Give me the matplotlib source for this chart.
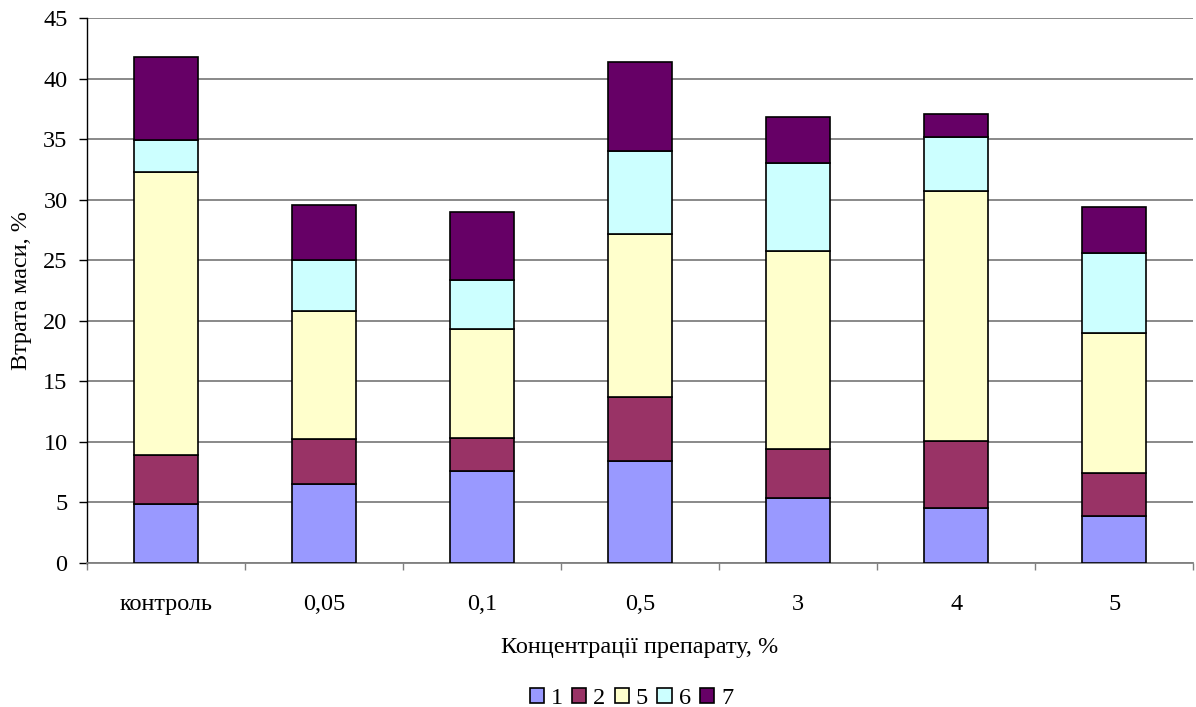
import matplotlib.pyplot as plt
import numpy as np

plt.rcParams['font.family'] = ['Liberation Serif', 'DejaVu Serif']

# categories and stacked segment heights (mass loss, %)
categories = ['контроль', '0,05', '0,1', '0,5', '3', '4', '5']
series_names = ['1', '2', '5', '6', '7']
s1 = [4.9, 6.5, 7.6, 8.4, 5.4, 4.5, 3.9]
s2 = [4.0, 3.7, 2.7, 5.3, 4.0, 5.6, 3.5]
s5 = [23.4, 10.6, 9.0, 13.5, 16.4, 20.6, 11.6]
s6 = [2.6, 4.2, 4.1, 6.8, 7.2, 4.5, 6.6]
s7 = [6.9, 4.6, 5.6, 7.4, 3.8, 1.9, 3.8]

colors = ['#9999FF', '#993366', '#FFFFCC', '#CCFFFF', '#660066']
fs = 17.5

fig = plt.figure(figsize=(11.96, 7.07), dpi=100)
ax = fig.add_axes([0.0727, 0.2037, 0.925, 0.7708])

x = np.arange(len(categories))
bottom = np.zeros(len(categories))
for name, vals, col in zip(series_names, [s1, s2, s5, s6, s7], colors):
    ax.bar(x, vals, width=0.405, bottom=bottom, color=col,
           edgecolor='black', linewidth=1.2, label=name, zorder=3)
    bottom += np.array(vals)

ax.set_xlim(-0.5, len(categories) - 0.5)
ax.set_ylim(0, 45)
ax.set_yticks(np.arange(0, 46, 5))
ax.yaxis.grid(True, color='#808080', linewidth=1.3, zorder=0)
ax.set_axisbelow(True)

# category labels between boundary ticks
ax.set_xticks(np.arange(-0.5, len(categories), 1.0))
ax.set_xticklabels([])
ax.set_xticks(x, minor=True)
ax.set_xticklabels(categories, minor=True)
ax.tick_params(axis='x', which='major', length=5, color='#808080', width=1)
ax.tick_params(axis='x', which='minor', length=0, pad=22, labelsize=fs)
ax.tick_params(axis='y', length=6, width=1, labelsize=fs, pad=8)

for side in ['top', 'right']:
    ax.spines[side].set_visible(False)
ax.spines['left'].set_color('black')
ax.spines['bottom'].set_color('#808080')
ax.spines['left'].set_linewidth(1)
ax.spines['bottom'].set_linewidth(1.3)

ax.set_xlabel('Концентрації препарату, %', fontsize=fs, labelpad=16.5)
ax.set_ylabel('Втрата маси, %', fontsize=fs, labelpad=8)

fig.legend(loc='center', bbox_to_anchor=(0.528, 0.012), ncol=5,
           frameon=False, fontsize=fs, handlelength=0.58, handleheight=0.58,
           handletextpad=0.29, columnspacing=0.38, borderaxespad=0,
           borderpad=0)

fig.savefig('out.png', dpi=100)
